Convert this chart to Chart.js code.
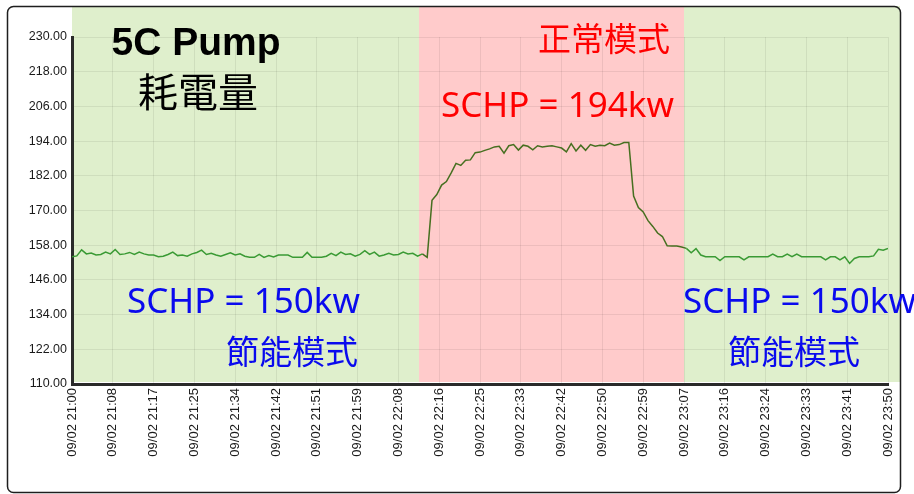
<!DOCTYPE html>
<html>
<head>
<meta charset="utf-8">
<script src="https://cdn.jsdelivr.net/npm/chart.js@4/dist/chart.umd.min.js"></script>
<style>
  html, body { margin: 0; padding: 0; background: #ffffff; }
  #wrap { width: 914px; height: 494px; }
</style>
</head>
<body>
<div id="wrap"><canvas id="c" width="914" height="494"></canvas></div>
<script>
// Tick labels along the time axis (one every 8.5 minutes from 21:00)
const timeLabels = [
  '09/02 21:00', '09/02 21:08', '09/02 21:17', '09/02 21:25', '09/02 21:34',
  '09/02 21:42', '09/02 21:51', '09/02 21:59', '09/02 22:08', '09/02 22:16',
  '09/02 22:25', '09/02 22:33', '09/02 22:42', '09/02 22:50', '09/02 22:59',
  '09/02 23:07', '09/02 23:16', '09/02 23:24', '09/02 23:33', '09/02 23:41',
  '09/02 23:50'
];
const tickStepMinutes = 8.5;

// Pump power, one sample per minute starting 21:00
const pumpPower = [
  154.0, 154.3, 156.4, 155.0, 155.3, 154.6, 154.8, 155.6, 155.0, 156.5,
  154.8, 155.0, 155.5, 154.8, 155.6, 155.0, 154.6, 154.6, 154.0, 154.2,
  154.8, 155.6, 154.4, 154.6, 154.2, 155.0, 155.5, 156.3, 154.8, 155.2,
  154.6, 154.2, 154.8, 155.4, 154.6, 155.0, 154.2, 153.8, 153.8, 154.8,
  153.8, 154.4, 153.9, 154.6, 154.6, 154.6, 153.8, 153.8, 153.8, 155.5,
  153.8, 153.8, 153.8, 154.2, 155.2, 154.4, 155.6, 154.8, 155.0, 154.2,
  154.8, 156.1, 154.8, 155.6, 154.2, 154.6, 155.2, 154.6, 154.8, 155.6,
  155.0, 155.2, 154.2, 155.0, 153.8, 173.5, 175.5, 178.8, 180.0, 183.0,
  186.3, 185.6, 187.4, 187.5, 190.0, 190.2, 190.8, 191.3, 192.0, 192.2,
  189.8, 192.4, 192.8, 190.9, 192.6, 192.2, 191.0, 192.4, 192.0, 192.2,
  192.4, 192.0, 191.6, 190.3, 193.1, 190.6, 192.6, 190.8, 192.8, 192.2,
  192.6, 192.4, 193.3, 192.6, 192.8, 193.5, 193.5, 175.0, 171.0, 169.5,
  166.5, 164.5, 162.2, 161.0, 157.8, 157.7, 157.7, 157.4, 156.9, 155.4,
  156.8, 154.6, 154.0, 154.0, 154.0, 152.7, 154.0, 154.0, 154.0, 154.0,
  152.9, 154.0, 154.0, 154.0, 154.0, 154.0, 154.9, 154.0, 154.0, 154.9,
  154.0, 154.9, 154.0, 154.0, 154.0, 154.0, 154.0, 152.9, 154.0, 154.0,
  152.9, 154.0, 151.7, 153.4, 154.0, 154.0, 154.0, 154.3, 156.6, 156.3,
  156.9
];

// Operating modes (minutes after 21:00)
const normalModeStart = 72.3;
const normalModeEnd = 127.5;
const schpSaving = 150;
const schpNormal = 194;

const points = pumpPower.map((v, i) => ({ x: i, y: v }));

const COLOR_SAVING_BG = '#dfefcc';
const COLOR_NORMAL_BG = '#ffcbcb';
const LINE_SAVING = '#3a9a34';
const LINE_NORMAL = '#466f20';

const inNormal = (a, b) => a >= normalModeStart - 0.01 && b <= normalModeEnd + 0.6;

// Mode backgrounds and outer frame, painted under the chart
const zonesPlugin = {
  id: 'zones',
  beforeDraw(chart) {
    const { ctx, chartArea, scales: { x } } = chart;
    ctx.save();
    ctx.fillStyle = '#ffffff';
    ctx.fillRect(0, 0, chart.width, chart.height);
    const top = 6;
    const bottom = chartArea.bottom - 2;
    const left = chartArea.left;
    const right = chartArea.right + 12;
    const xa = x.getPixelForValue(normalModeStart);
    const xb = x.getPixelForValue(normalModeEnd);
    ctx.fillStyle = COLOR_SAVING_BG;
    ctx.fillRect(left, top, xa - left, bottom - top);
    ctx.fillRect(xb, top, right - xb, bottom - top);
    ctx.fillStyle = COLOR_NORMAL_BG;
    ctx.fillRect(xa, top, xb - xa, bottom - top);
    ctx.restore();
  },
  afterDraw(chart) {
    const { ctx } = chart;
    ctx.save();
    // rounded frame around the whole panel
    ctx.strokeStyle = '#1e1e1e';
    ctx.lineWidth = 1.5;
    ctx.beginPath();
    ctx.roundRect(7.5, 6.5, 893, 486, 6);
    ctx.stroke();
    ctx.restore();
  }
};

// Titles and mode notes written over the chart
const notes = [
  { text: '5C Pump', x: 196, y: 55, base: 'alphabetic', font: 'bold 39px "Liberation Sans", Arial, sans-serif', color: '#000000', align: 'center' },
  { text: '耗電量', x: 198, y: 92, base: 'middle', font: '40px "Noto Sans CJK TC", sans-serif', color: '#000000', align: 'center' },
  { text: '正常模式', x: 604, y: 38, base: 'middle', font: '33px "Noto Sans CJK TC", sans-serif', color: '#ff0000', align: 'center' },
  { text: 'SCHP = ' + schpNormal + 'kw', x: 441, y: 117, base: 'alphabetic', font: '35px "Noto Sans", "Noto Sans CJK TC", sans-serif', color: '#ff0000', align: 'left' },
  { text: 'SCHP = ' + schpSaving + 'kw', x: 127, y: 313, base: 'alphabetic', font: '35px "Noto Sans", "Noto Sans CJK TC", sans-serif', color: '#0a0aee', align: 'left' },
  { text: '節能模式', x: 292, y: 351, base: 'middle', font: '33px "Noto Sans CJK TC", sans-serif', color: '#0a0aee', align: 'center' },
  { text: 'SCHP = ' + schpSaving + 'kw', x: 683, y: 313, base: 'alphabetic', font: '35px "Noto Sans", "Noto Sans CJK TC", sans-serif', color: '#0a0aee', align: 'left' },
  { text: '節能模式', x: 794, y: 351, base: 'middle', font: '33px "Noto Sans CJK TC", sans-serif', color: '#0a0aee', align: 'center' }
];

const notesPlugin = {
  id: 'notes',
  afterDraw(chart) {
    const { ctx } = chart;
    ctx.save();
    for (const n of notes) {
      ctx.font = n.font;
      ctx.fillStyle = n.color;
      ctx.textAlign = n.align;
      ctx.textBaseline = n.base;
      ctx.fillText(n.text, n.x, n.y);
    }
    ctx.restore();
  }
};

new Chart(document.getElementById('c'), {
  type: 'line',
  data: {
    datasets: [{
      data: points,
      borderColor: LINE_SAVING,
      borderWidth: 1.5,
      pointRadius: 0,
      tension: 0,
      segment: {
        borderColor: c => inNormal(c.p0.parsed.x, c.p1.parsed.x) ? LINE_NORMAL : LINE_SAVING
      }
    }]
  },
  options: {
    responsive: false,
    animation: false,
    layout: { padding: { top: 37, right: 26, bottom: 0, left: 0 } },
    plugins: { legend: { display: false }, tooltip: { enabled: false } },
    scales: {
      x: {
        type: 'linear',
        min: 0,
        max: 170,
        afterBuildTicks: s => { s.ticks = timeLabels.map((_, i) => ({ value: i * tickStepMinutes })); },
        afterFit: s => { s.height = 110; },
        ticks: {
          autoSkip: false,
          minRotation: 90,
          maxRotation: 90,
          padding: 4,
          color: '#1a1a1a',
          font: { family: '"Liberation Sans", Arial, sans-serif', size: 13 },
          callback: (v, i) => timeLabels[i]
        },
        grid: { color: 'rgba(0,0,0,0.07)', drawTicks: false },
        border: { color: '#2a2a2a', width: 3 }
      },
      y: {
        min: 110,
        max: 230,
        afterFit: s => { s.width = 72; },
        ticks: {
          stepSize: 6,
          padding: 5,
          color: '#1a1a1a',
          font: { family: '"Liberation Sans", Arial, sans-serif', size: 12.5 },
          callback: v => ((Math.round(v) - 110) % 12 === 0 ? Number(v).toFixed(2) : '')
        },
        grid: { color: 'rgba(0,0,0,0.07)', drawTicks: false },
        border: { color: '#2a2a2a', width: 3 }
      }
    }
  },
  plugins: [zonesPlugin, notesPlugin]
});
</script>
</body>
</html>
